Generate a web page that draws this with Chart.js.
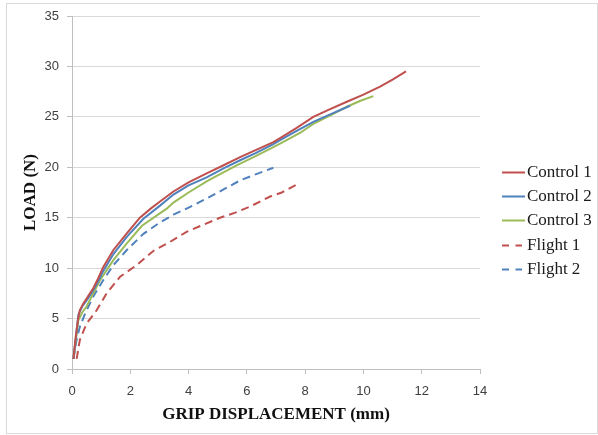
<!DOCTYPE html>
<html>
<head>
<meta charset="utf-8">
<script src="https://cdn.jsdelivr.net/npm/chart.js@4.4.1/dist/chart.umd.min.js"></script>
<style>
    body { margin: 0; background: #fff; }
    canvas { display: block; }
</style>
</head>
<body>
<canvas id="myChart" width="598" height="435"></canvas>
<script>
// grip displacement (mm) / load (N)
const control1X = [0.05, 0.12, 0.2, 0.27, 0.39, 0.55, 0.73, 0.9, 1.07, 1.42, 1.88, 2.33, 2.7, 3.02, 3.48, 4.0, 4.62, 5.2, 5.77, 6.3, 6.91, 7.14, 7.71, 8.28, 8.8, 9.43, 10.0, 10.57, 11.0, 11.46];
const control1Y = [1.0, 3.0, 4.8, 5.85, 6.5, 7.2, 8.0, 9.0, 10.1, 11.8, 13.45, 15.0, 15.9, 16.6, 17.6, 18.5, 19.4, 20.2, 21.0, 21.7, 22.5, 22.9, 23.9, 25.0, 25.7, 26.5, 27.2, 28.0, 28.7, 29.5];

const control2X = [0.05, 0.12, 0.22, 0.35, 0.55, 0.73, 0.9, 1.07, 1.42, 1.88, 2.45, 3.02, 3.48, 4.0, 4.62, 5.2, 5.77, 6.3, 6.91, 7.14, 7.71, 8.28, 8.9, 9.54];
const control2Y = [1.0, 2.8, 5.4, 6.2, 7.0, 7.8, 8.7, 9.7, 11.4, 13.1, 14.9, 16.2, 17.3, 18.2, 19.0, 19.9, 20.7, 21.4, 22.3, 22.7, 23.6, 24.5, 25.3, 26.1];

const control3X = [0.05, 0.12, 0.22, 0.35, 0.5, 0.73, 0.96, 1.42, 1.88, 2.4, 3.25, 3.48, 4.0, 4.62, 5.0, 5.65, 6.3, 6.91, 7.14, 7.82, 8.28, 8.9, 9.43, 9.9, 10.34];
const control3Y = [1.0, 2.6, 4.85, 5.6, 6.2, 7.5, 8.8, 10.8, 12.45, 14.2, 15.9, 16.5, 17.5, 18.6, 19.2, 20.2, 21.1, 22.0, 22.35, 23.4, 24.3, 25.2, 26.0, 26.6, 27.05];

const flight1X = [0.16, 0.27, 0.5, 0.85, 1.19, 1.65, 2.22, 2.79, 3.36, 3.93, 4.5, 5.08, 5.6, 6.11, 6.45, 6.8, 7.2, 7.71];
const flight1Y = [1.0, 2.9, 4.5, 5.85, 7.5, 9.15, 10.3, 11.7, 12.6, 13.6, 14.3, 15.0, 15.5, 16.1, 16.6, 17.1, 17.5, 18.3];

const flight2X = [0.05, 0.15, 0.27, 0.45, 0.73, 1.07, 1.42, 1.88, 2.45, 3.0, 3.48, 4.0, 4.62, 5.2, 5.77, 6.3, 6.91];
const flight2Y = [1.0, 2.8, 4.2, 5.5, 7.2, 8.8, 10.3, 11.8, 13.4, 14.5, 15.3, 16.0, 16.9, 17.8, 18.7, 19.3, 19.95];

const seriesNames = ['Control 1', 'Control 2', 'Control 3', 'Flight 1', 'Flight 2'];
const xTicks = [0, 2, 4, 6, 8, 10, 12, 14];
const yTicks = [0, 5, 10, 15, 20, 25, 30, 35];

const RED = '#C0504D';
const BLUE = '#4F81BD';
const GREEN = '#9BBB59';

function toPoints(xs, ys) {
    return xs.map((x, i) => ({ x: x, y: ys[i] }));
}

function series(label, xs, ys, color, dashed) {
    return {
        label: label,
        data: toPoints(xs, ys),
        borderColor: color,
        backgroundColor: color,
        borderWidth: 2,
        borderDash: dashed ? [8, 5] : [],
        showLine: true,
        pointRadius: 0,
        tension: 0,
        fill: false
    };
}

// white page, light frame, and the legend on the right
const pagePlugin = {
    id: 'page',
    beforeDraw(chart) {
        const ctx = chart.ctx;
        ctx.save();
        ctx.fillStyle = '#fff';
        ctx.fillRect(0, 0, chart.width, chart.height);
        ctx.strokeStyle = '#d9d9d9';
        ctx.lineWidth = 1;
        ctx.strokeRect(6.5, 3.5, 591, 430);
        ctx.restore();
    },
    afterDraw(chart) {
        const ctx = chart.ctx;
        ctx.save();
        ctx.font = '17px "Liberation Serif"';
        ctx.textBaseline = 'middle';
        chart.data.datasets.forEach((ds, i) => {
            const y = Math.round(172 + i * 24.2) + 0.5;
            ctx.strokeStyle = ds.borderColor;
            ctx.lineWidth = 2;
            ctx.beginPath();
            if (ds.borderDash.length) {
                ctx.setLineDash([7, 6.5]);
                ctx.moveTo(502, y);
                ctx.lineTo(522, y);
            } else {
                ctx.setLineDash([]);
                ctx.moveTo(502, y);
                ctx.lineTo(525, y);
            }
            ctx.stroke();
            ctx.fillStyle = '#1a1a1a';
            ctx.fillText(ds.label, 527, y);
        });
        ctx.restore();
    }
};

const ctx = document.getElementById('myChart').getContext('2d');
const chart = new Chart(ctx, {
    type: 'scatter',
    data: {
        datasets: [
            series(seriesNames[0], control1X, control1Y, RED, false),
            series(seriesNames[1], control2X, control2Y, BLUE, false),
            series(seriesNames[2], control3X, control3Y, GREEN, false),
            series(seriesNames[3], flight1X, flight1Y, RED, true),
            series(seriesNames[4], flight2X, flight2Y, BLUE, true)
        ]
    },
    options: {
        responsive: false,
        animation: false,
        layout: { padding: { top: 16, right: 118, bottom: 0, left: 0 } },
        plugins: {
            legend: { display: false },
            tooltip: { enabled: false }
        },
        scales: {
            x: {
                type: 'linear',
                min: 0,
                max: 14,
                afterBuildTicks: (scale) => { scale.ticks = xTicks.map(v => ({ value: v })); },
                afterFit: (scale) => { scale.height = 66; },
                grid: { display: true, drawOnChartArea: false, tickLength: 5, color: '#bfbfbf' },
                border: { color: '#bfbfbf' },
                ticks: { padding: 10, color: '#404040', font: { family: '"Liberation Sans"', size: 13 }, maxRotation: 0 },
                title: {
                    display: true,
                    text: 'GRIP DISPLACEMENT (mm)',
                    color: '#111',
                    font: { family: '"Liberation Serif"', size: 17, weight: 'bold' },
                    padding: { top: 0, bottom: 10 }
                }
            },
            y: {
                type: 'linear',
                min: 0,
                max: 35,
                afterBuildTicks: (scale) => { scale.ticks = yTicks.map(v => ({ value: v })); },
                afterFit: (scale) => { scale.width = 72; },
                grid: { color: '#d9d9d9', tickLength: 5, tickColor: '#bfbfbf' },
                border: { color: '#bfbfbf' },
                ticks: { padding: 8, color: '#404040', font: { family: '"Liberation Sans"', size: 13 } },
                title: {
                    display: true,
                    text: 'LOAD (N)',
                    color: '#111',
                    font: { family: '"Liberation Serif"', size: 17, weight: 'bold' },
                    padding: { top: 20, bottom: 0 }
                }
            }
        }
    },
    plugins: [pagePlugin]
});
</script>
</body>
</html>
